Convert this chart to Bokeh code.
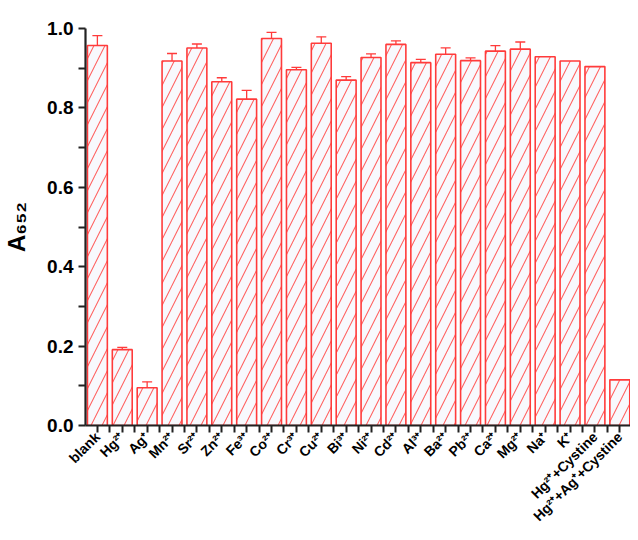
import math
from bokeh.plotting import figure
from bokeh.models import ColumnDataSource, Range1d, FixedTicker, Whisker
from bokeh.embed import file_html
from bokeh.resources import INLINE

categories = ["blank", "Hg²⁺", "Ag⁺", "Mn²⁺", "Sr²⁺", "Zn²⁺", "Fe³⁺", "Co²⁺", "Cr³⁺", "Cu²⁺",
              "Bi³⁺", "Ni²⁺", "Cd²⁺", "Al³⁺", "Ba²⁺", "Pb²⁺", "Ca²⁺", "Mg²⁺", "Na⁺", "K⁺",
              "Hg²⁺+Cystine", "Hg²⁺+Ag⁺+Cystine"]
values = [0.957, 0.191, 0.095, 0.918, 0.951, 0.866, 0.822, 0.975, 0.896, 0.963,
          0.870, 0.927, 0.960, 0.914, 0.935, 0.919, 0.943, 0.948, 0.929, 0.918,
          0.904, 0.115]
errors = [0.025, 0.006, 0.015, 0.019, 0.010, 0.010, 0.022, 0.015, 0.006, 0.016,
          0.009, 0.009, 0.009, 0.008, 0.016, 0.007, 0.014, 0.018, 0.0, 0.0,
          0.0, 0.0]
y_ticks = [0.0, 0.2, 0.4, 0.6, 0.8, 1.0]

xs = list(range(len(categories)))
src = ColumnDataSource(dict(x=xs, top=values))
ex = [x for x, e in zip(xs, errors) if e > 0]
eu = [v + e for v, e in zip(values, errors) if e > 0]
el = [v - e for v, e in zip(values, errors) if e > 0]
esrc = ColumnDataSource(dict(x=ex, upper=eu, lower=el))

p = figure(width=630, height=532, output_backend="svg", toolbar_location=None,
           x_range=Range1d(-0.478, 21.43), y_range=Range1d(0, 1.0),
           min_border_left=80, min_border_right=0, min_border_top=28, min_border_bottom=101)
p.outline_line_color = None
p.grid.visible = False

RED = "#ff3b3b"
p.vbar(x="x", top="top", width=0.8, source=src, fill_color="#f8f9fd",
       line_color=RED, line_width=1.6,
       hatch_pattern="/", hatch_color="#ff6464", hatch_scale=22, hatch_weight=1.1)

w = Whisker(base="x", upper="upper", lower="lower", source=esrc, dimension="height",
            line_color=RED, line_width=1.3)
w.upper_head.size = 10
w.lower_head.size = 10
w.upper_head.line_color = RED
w.lower_head.line_color = RED
w.upper_head.line_width = 1.3
w.lower_head.line_width = 1.3
p.add_layout(w)

# x axis
p.xaxis.ticker = FixedTicker(ticks=xs, minor_ticks=[x + 0.5 for x in [-1] + xs])
p.xaxis.major_label_overrides = {x: c for x, c in zip(xs, categories)}
p.xaxis.major_label_orientation = math.pi / 4
p.xaxis.major_label_text_font = "Liberation Sans"
p.xaxis.major_label_text_font_style = "bold"
p.xaxis.major_label_text_font_size = "14px"
p.xaxis.major_label_text_color = "black"
p.xaxis.major_label_standoff = 2

# y axis
p.yaxis.ticker = FixedTicker(ticks=y_ticks, minor_ticks=[0.1, 0.3, 0.5, 0.7, 0.9])
p.yaxis.major_label_overrides = {t: f"{t:.1f}" for t in y_ticks}
p.yaxis.major_label_text_font = "Liberation Sans"
p.yaxis.major_label_text_font_style = "bold"
p.yaxis.major_label_text_font_size = "19px"
p.yaxis.major_label_text_color = "black"
p.yaxis.axis_label = "A₆₅₂"
p.yaxis.axis_label_text_font = "Liberation Sans"
p.yaxis.axis_label_text_font_style = "bold"
p.yaxis.axis_label_text_font_size = "24px"
p.yaxis.axis_label_text_color = "black"
p.yaxis.axis_label_standoff = 14

for ax in (p.xaxis, p.yaxis):
    ax.axis_line_width = 2.2
    ax.axis_line_color = "#222222"
    ax.major_tick_line_width = 2
    ax.minor_tick_line_width = 2
    ax.major_tick_line_color = "#222222"
    ax.minor_tick_line_color = "#222222"
    ax.major_tick_out = 7
    ax.major_tick_in = 0
    ax.minor_tick_out = 7
    ax.minor_tick_in = 0

open("out.html", "w").write(file_html(p, INLINE))
